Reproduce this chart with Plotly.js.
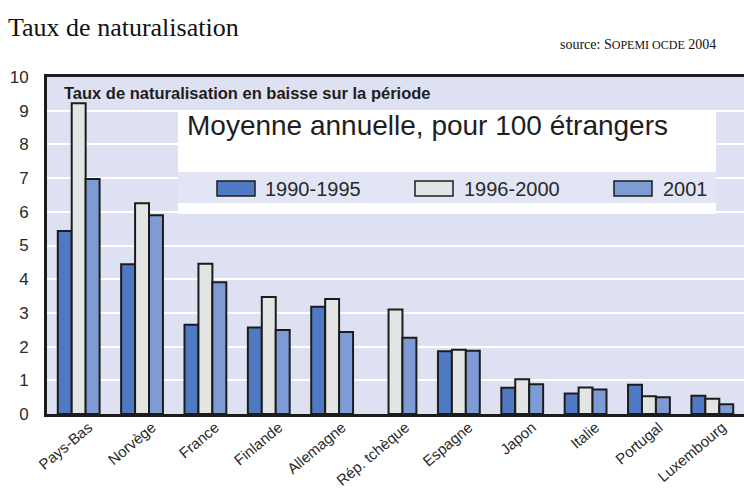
<!DOCTYPE html>
<html>
<head>
<meta charset="utf-8">
<script src="https://cdn.plot.ly/plotly-3.0.1.min.js"></script>
<style>html,body{margin:0;padding:0;background:#fff;}#chart{width:744px;height:491px;}</style>
</head>
<body>
<div id="chart"></div>
<script>
const categories = ["Pays-Bas","Norvège","France","Finlande","Allemagne","Rép. tchèque","Espagne","Japon","Italie","Portugal","Luxembourg"];
const seriesNames = ["1990-1995","1996-2000","2001"];
const v1990_1995 = [5.43, 4.44, 2.65, 2.57, 3.18, null, 1.86, 0.78, 0.61, 0.87, 0.54];
const v1996_2000 = [9.22, 6.25, 4.46, 3.47, 3.41, 3.10, 1.91, 1.03, 0.79, 0.53, 0.45];
const v2001      = [6.97, 5.90, 3.91, 2.49, 2.43, 2.26, 1.88, 0.88, 0.73, 0.50, 0.29];
const yTicks = [0,1,2,3,4,5,6,7,8,9,10];

const colors = ["#5079c4", "#e3e5e5", "#7f9bd6"];
const values = [v1990_1995, v1996_2000, v2001];

// pixel helpers for layout positioning
const L = 47, R = 744, T = 77, B = 414;
const px = x => (x - L) / (R - L);
const py = y => (B - y) / (B - T);

const traces = values.map((v, i) => ({
  type: "bar", x: categories, y: v, name: seriesNames[i],
  marker: {color: colors[i], line: {color: "#1c1c1c", width: 2}},
  hoverinfo: "x+y+name"
}));

const shapes = [
  {type:"rect", xref:"paper", yref:"paper", x0:px(178), x1:px(716), y0:py(172), y1:py(110.7), fillcolor:"#ffffff", line:{width:0}, layer:"above"},
  {type:"rect", xref:"paper", yref:"paper", x0:px(178), x1:px(716), y0:py(203), y1:py(172), fillcolor:"#e2e5f4", line:{width:0}, layer:"above"},
  {type:"rect", xref:"paper", yref:"paper", x0:px(178), x1:px(716), y0:py(214), y1:py(203), fillcolor:"#ffffff", line:{width:0}, layer:"above"}
];
const swX = [217, 415, 614];
const txtX = [263, 462, 661];
swX.forEach((x, i) => {
  shapes.push({type:"rect", xref:"paper", yref:"paper", x0:px(x), x1:px(x+38), y0:py(196), y1:py(181),
    fillcolor: colors[i], line:{color:"#1c1c1c", width:1.5}, layer:"above"});
});

const font = "Liberation Sans, Arial, sans-serif";
const annotations = [
  {xref:"paper", yref:"paper", x:px(62), y:py(93), xanchor:"left", yanchor:"middle", showarrow:false,
   text:"<b>Taux de naturalisation en baisse sur la période</b>", font:{family:font, size:16.5, color:"#1e1e1e"}},
  {xref:"paper", yref:"paper", x:px(185), y:py(125), xanchor:"left", yanchor:"middle", showarrow:false,
   text:"Moyenne annuelle, pour 100 étrangers", font:{family:font, size:28, color:"#1e1e1e"}},
  {xref:"paper", yref:"paper", x:px(718), y:py(44), xanchor:"right", yanchor:"middle", showarrow:false,
   text:'source: S<span style="font-size:12px">OPEMI OCDE</span> 2004', font:{family:"Liberation Serif, Times New Roman, serif", size:14, color:"#111"}}
];
txtX.forEach((x, i) => {
  annotations.push({xref:"paper", yref:"paper", x:px(x), y:py(188.5), xanchor:"left", yanchor:"middle", showarrow:false,
    text: seriesNames[i], font:{family:font, size:20, color:"#2a2a2a"}});
});

const layout = {
  width: 744, height: 491,
  margin: {l: L, r: 0, t: T, b: 491 - B, pad: 0},
  paper_bgcolor: "#ffffff",
  plot_bgcolor: "#dee1f2",
  barmode: "group", bargap: 0.34, bargroupgap: 0,
  showlegend: false,
  title: {text: "Taux de naturalisation", x: 8/744, xref:"container", xanchor: "left", y: 1 - 27/491, yref:"container", yanchor: "middle",
          font: {family: "Liberation Serif, Times New Roman, serif", size: 26, color: "#111"}},
  xaxis: {type: "category", showgrid: false, showline: true, linecolor: "#1c1c1c", linewidth: 3, mirror: true,
          ticks: "", tickangle: -40, ticklabelshift: 10, ticklabelstandoff: -4,
          tickfont: {family: font, size: 15, color: "#2a2a2a"}, zeroline: false, fixedrange: true},
  yaxis: {range: [0, 10], tickvals: yTicks, ticktext: yTicks.map(String), showgrid: true, gridcolor: "#ffffff", gridwidth: 2,
          showline: true, linecolor: "#1c1c1c", linewidth: 3, ticks: "", ticklabelstandoff: 12,
          tickfont: {family: font, size: 17, color: "#2a2a2a"}, zeroline: false, fixedrange: true},
  shapes: shapes,
  annotations: annotations
};

Plotly.newPlot("chart", traces, layout, {displayModeBar: false, staticPlot: true});
</script>
</body>
</html>
